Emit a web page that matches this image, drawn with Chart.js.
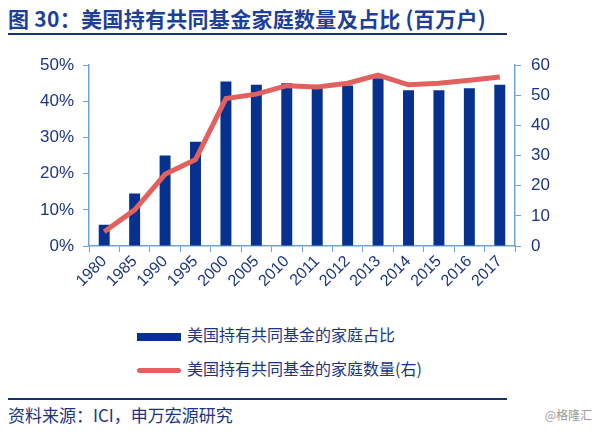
<!DOCTYPE html>
<html>
<head>
<meta charset="utf-8">
<script src="https://cdn.jsdelivr.net/npm/chart.js@4"></script>
<style>
  body { margin: 0; background: #fff; font-family: "Noto Sans CJK SC", sans-serif; }
  #wrap { position: relative; width: 604px; height: 439px; overflow: hidden; }
  #title { position: absolute; left: 8px; top: 3px; font-size: 21px; font-weight: bold; color: #1E3F96; white-space: nowrap; letter-spacing: 0.3px; }
  .rule { position: absolute; left: 8px; width: 499px; height: 2px; background: #17326E; }
  #chartBox { position: absolute; left: 0; top: 45px; width: 604px; height: 260px; }
  .leg { position: absolute; left: 137px; font-size: 16px; color: #1B3580; white-space: nowrap; }
  .sw { display: inline-block; width: 44px; vertical-align: middle; margin-right: 6px; }
  #source { position: absolute; left: 8px; top: 402px; font-size: 17px; color: #1B3580; }
  #mark { position: absolute; right: 12px; top: 406px; font-size: 12px; color: #999; }
</style>
</head>
<body>
<div id="wrap">
  <div id="title">图 30：美国持有共同基金家庭数量及占比 (百万户)</div>
  <div class="rule" style="top:33px"></div>
  <div id="chartBox"><canvas id="fundChart"></canvas></div>
  <div class="leg" style="top:322px"><span class="sw" style="height:8px;background:#06318E"></span>美国持有共同基金的家庭占比</div>
  <div class="leg" style="top:356px"><span class="sw" style="height:5px;border-radius:3px;background:#E2605E"></span>美国持有共同基金的家庭数量(右)</div>
  <div class="rule" style="top:398px"></div>
  <div id="source">资料来源：ICI，申万宏源研究</div>
  <div id="mark">@格隆汇</div>
</div>
<script>
// Data
const years = ['1980', '1985', '1990', '1995', '2000', '2005', '2010', '2011', '2012', '2013', '2014', '2015', '2016', '2017'];
const shareOfHouseholds = [5.9, 14.5, 25.0, 28.8, 45.5, 44.6, 45.0, 44.0, 44.4, 46.4, 43.1, 43.1, 43.6, 44.6];
const householdsMillions = [4.7, 12.0, 23.8, 28.7, 48.9, 50.4, 53.2, 52.8, 54.0, 56.7, 53.5, 54.0, 55.0, 56.1];
const leftTicks = [0, 10, 20, 30, 40, 50];
const rightTicks = [0, 10, 20, 30, 40, 50, 60];

const axisBlue = '#6FA3D6';
const labelBlue = '#1B3580';
const tickFont = { family: '"Liberation Sans", Arial, sans-serif', size: 17 };

let ctx = document.getElementById('fundChart').getContext('2d');
let fundChart = new Chart(ctx, {
    data: {
        labels: years,
        datasets: [{
            type: 'line',
            label: '美国持有共同基金的家庭数量(右)',
            data: householdsMillions,
            yAxisID: 'yRight',
            borderColor: '#E2605E',
            borderWidth: 5,
            pointRadius: 0,
            tension: 0,
            order: 0
        }, {
            type: 'bar',
            label: '美国持有共同基金的家庭占比',
            data: shareOfHouseholds,
            yAxisID: 'yLeft',
            backgroundColor: '#06318E',
            categoryPercentage: 1,
            barPercentage: 0.36,
            order: 1
        }]
    },
    options: {
        responsive: true,
        maintainAspectRatio: false,
        animation: false,
        layout: { padding: { top: 4, left: 0, right: 0, bottom: 0 } },
        plugins: { legend: { display: false }, tooltip: { enabled: false } },
        scales: {
            x: {
                offset: true,
                grid: { offset: true, drawOnChartArea: false, color: axisBlue, tickLength: 6 },
                border: { color: axisBlue, width: 1.5 },
                ticks: { color: labelBlue, font: { family: tickFont.family, size: 16 }, autoSkip: false, minRotation: 45, maxRotation: 45, padding: 0 },
                afterFit: (scale) => { scale.height = 59; }
            },
            yLeft: {
                position: 'left',
                min: 0, max: 50,
                afterBuildTicks: (scale) => { scale.ticks = leftTicks.map(v => ({ value: v })); },
                grid: { drawOnChartArea: false, color: axisBlue, tickLength: 6 },
                border: { color: axisBlue, width: 1.5 },
                ticks: { color: labelBlue, font: tickFont, padding: 9, callback: (v) => v + '%' },
                afterFit: (scale) => { scale.width = 89; }
            },
            yRight: {
                position: 'right',
                min: 0, max: 60,
                afterBuildTicks: (scale) => { scale.ticks = rightTicks.map(v => ({ value: v })); },
                grid: { drawOnChartArea: false, color: axisBlue, tickLength: 6 },
                border: { color: axisBlue, width: 1.5 },
                ticks: { color: labelBlue, font: tickFont, padding: 10 },
                afterFit: (scale) => { scale.width = 89; }
            }
        }
    }
});
</script>
</body>
</html>
